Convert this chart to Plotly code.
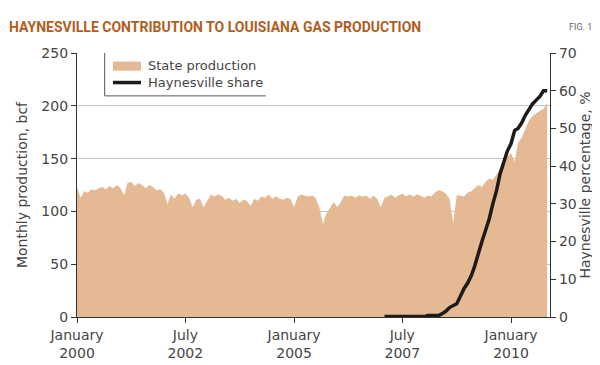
import pandas as pd
import plotly.graph_objects as go

# ---- data ----
months = pd.date_range("2000-01-01", periods=131, freq="MS").strftime("%Y-%m-%d").tolist()

state_production = [
    123, 113, 119, 118, 121, 120, 122, 123, 121, 124, 122, 125,   # 2000
    122, 115, 127, 128, 124, 127, 125, 122, 125, 123, 120, 121,   # 2001
    118, 107, 116, 112, 117, 115, 117, 113, 104, 111, 112, 104,   # 2002
    110, 116, 114, 116, 115, 111, 113, 110, 112, 108, 111, 110,   # 2003
    105, 112, 110, 114, 113, 116, 112, 114, 112, 111, 113, 112,   # 2004
    104, 114, 116, 115, 114, 115, 113, 104, 88, 98, 104, 109,     # 2005
    104, 110, 115, 114, 115, 113, 115, 114, 115, 112, 115, 112,   # 2006
    104, 113, 114, 116, 113, 115, 117, 114, 116, 114, 116, 115,   # 2007
    113, 115, 114, 118, 120, 119, 117, 112, 89, 115, 115, 114,    # 2008
    118, 119, 122, 125, 123, 128, 131, 130, 135, 140, 146, 152,   # 2009
    155, 147, 165, 170, 178, 186, 190, 193, 195, 197, 203,        # 2010
]

hay_months = months[85:]
haynesville_share = [
    0.1, 0.1, 0.1, 0.1, 0.1, 0.1, 0.1, 0.1, 0.1, 0.1, 0.1, 0.1,
    0.4, 0.4, 0.4, 0.4,
    0.9, 1.5, 2.5, 3.0, 3.5, 5.5, 7.5, 9.0, 11.0, 13.5,
    17.0, 20.0, 23.0, 26.0, 30.0, 33.5, 38.0, 41.0, 44.0, 46.0,
    49.5, 50.0, 51.5, 53.5, 55.0, 56.5, 57.5, 58.5, 60.0, 60.0,
]

x_tick_vals = ["2000-01-01", "2002-07-01", "2005-01-01", "2007-07-01", "2010-01-01"]
x_tick_text = ["January<br>2000", "July<br>2002", "January<br>2005", "July<br>2007", "January<br>2010"]
y_left_ticks = [0, 50, 100, 150, 200, 250]
y_right_ticks = [0, 10, 20, 30, 40, 50, 60, 70]

# ---- styles ----
W, H = 600, 365
L, R, T, B = 69, 58, 45, 43
AREA = "#e5b994"
LINE = "#1e1a18"
TXT = "#454545"
FONT = "DejaVu Sans"
TFONT = "Roboto"

def px(xp):
    return (xp - L) / (W - L - R)

def py(yp):
    return (H - B - yp) / (H - T - B)

fig = go.Figure()
fig.add_trace(go.Scatter(
    x=months, y=state_production, mode="lines", fill="tozeroy",
    line=dict(width=0, color=AREA), fillcolor=AREA,
    name="State production", showlegend=False, hoverinfo="x+y",
))
fig.add_trace(go.Scatter(
    x=hay_months, y=haynesville_share, mode="lines", yaxis="y2",
    line=dict(width=3.5, color=LINE),
    name="Haynesville share", showlegend=False,
))

axis_common = dict(
    showline=True, linecolor="#333", linewidth=1.2,
    ticks="outside", ticklen=5, tickcolor="#333", tickwidth=1,
    tickfont=dict(family=FONT, size=14, color=TXT),
    zeroline=False,
)

fig.update_layout(
    width=W, height=H,
    margin=dict(l=L, r=R, t=T, b=B),
    paper_bgcolor="white", plot_bgcolor="white",
    title=dict(
        text="<b>HAYNESVILLE CONTRIBUTION TO LOUISIANA GAS PRODUCTION</b>",
        x=1 / W, xref="container", xanchor="left",
        y=1 - 19 / H, yref="container", yanchor="middle",
        font=dict(family=TFONT, size=14, color="#b05e1e"),
    ),
    xaxis=dict(
        type="date", range=["2000-01-01", "2010-11-25"],
        tickmode="array", tickvals=x_tick_vals, ticktext=x_tick_text,
        showgrid=False, **axis_common,
    ),
    yaxis=dict(
        range=[0, 250], tickmode="array", tickvals=y_left_ticks,
        showgrid=True, gridcolor="#c4c4c4", gridwidth=1,
        title=dict(text="Monthly production, bcf", font=dict(family=FONT, size=14, color=TXT), standoff=10),
        **axis_common,
    ),
    yaxis2=dict(
        range=[0, 70], tickmode="array", tickvals=y_right_ticks,
        overlaying="y", side="right", showgrid=False,
        title=dict(text="Haynesville percentage, %", font=dict(family=FONT, size=14, color=TXT), standoff=3),
        **axis_common,
    ),
    showlegend=False,
)

# legend drawn manually (left and bottom border only)
shapes = [
    dict(type="line", xref="paper", yref="paper", x0=px(96.7), x1=px(96.7), y0=py(45), y1=py(90),
         line=dict(color="#555", width=1)),
    dict(type="line", xref="paper", yref="paper", x0=px(96.7), x1=px(258), y0=py(90), y1=py(90),
         line=dict(color="#555", width=1)),
    dict(type="rect", xref="paper", yref="paper", x0=px(105), x1=px(133), y0=py(63.5), y1=py(54),
         line=dict(width=0), fillcolor=AREA),
    dict(type="line", xref="paper", yref="paper", x0=px(105), x1=px(133), y0=py(76), y1=py(76),
         line=dict(color=LINE, width=3.5)),
]
fig.update_layout(shapes=shapes)

fig.add_annotation(text="State production", xref="paper", yref="paper", x=px(138), y=py(58.5),
                   xanchor="left", yanchor="middle", showarrow=False,
                   font=dict(family=FONT, size=13, color=TXT))
fig.add_annotation(text="Haynesville share", xref="paper", yref="paper", x=px(138), y=py(76),
                   xanchor="left", yanchor="middle", showarrow=False,
                   font=dict(family=FONT, size=13, color=TXT))
fig.add_annotation(text="FIG. 1", xref="paper", yref="paper", x=px(586), y=py(18),
                   xanchor="right", yanchor="middle", showarrow=False,
                   font=dict(family=TFONT, size=9, color="#666"))

fig.write_html("out.html")
